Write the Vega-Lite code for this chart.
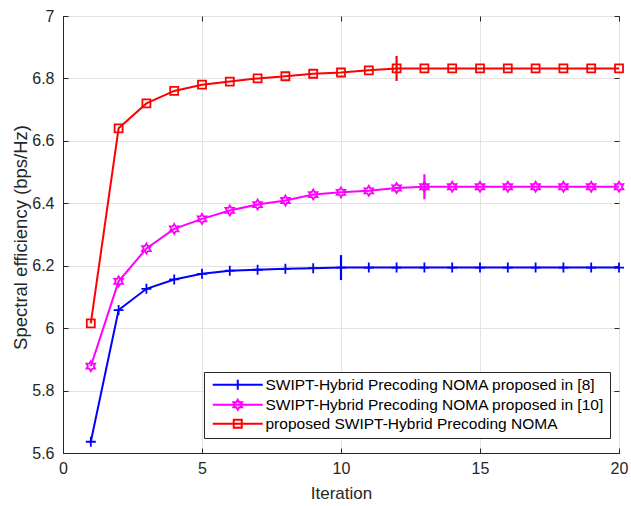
{
  "$schema": "https://vega.github.io/schema/vega-lite/v6.json",
  "width": 556,
  "height": 437,
  "autosize": "none",
  "padding": {"left": 63, "top": 16, "right": 12, "bottom": 53},
  "background": "white",
  "config": {
    "view": {"stroke": "#262626", "strokeWidth": 1},
    "font": "Liberation Sans",
    "axis": {
      "labelFont": "Liberation Sans",
      "labelFontSize": 16,
      "labelColor": "#262626",
      "titleFont": "Liberation Sans",
      "titleFontWeight": "normal",
      "titleColor": "#262626",
      "domainColor": "#262626",
      "tickColor": "#262626",
      "tickSize": -5,
      "gridColor": "#e3e3e3",
      "gridWidth": 1,
      "labelFlush": false
    }
  },
  "resolve": {"scale": {"shape": "independent", "color": "independent"}},
  "datasets": {
    "curves": [
      {"series": "SWIPT-Hybrid Precoding NOMA proposed in [8]", "iter": 1, "se": 5.636},
      {"series": "SWIPT-Hybrid Precoding NOMA proposed in [8]", "iter": 2, "se": 6.058},
      {"series": "SWIPT-Hybrid Precoding NOMA proposed in [8]", "iter": 3, "se": 6.126},
      {"series": "SWIPT-Hybrid Precoding NOMA proposed in [8]", "iter": 4, "se": 6.156},
      {"series": "SWIPT-Hybrid Precoding NOMA proposed in [8]", "iter": 5, "se": 6.174},
      {"series": "SWIPT-Hybrid Precoding NOMA proposed in [8]", "iter": 6, "se": 6.184},
      {"series": "SWIPT-Hybrid Precoding NOMA proposed in [8]", "iter": 7, "se": 6.187},
      {"series": "SWIPT-Hybrid Precoding NOMA proposed in [8]", "iter": 8, "se": 6.19},
      {"series": "SWIPT-Hybrid Precoding NOMA proposed in [8]", "iter": 9, "se": 6.192},
      {"series": "SWIPT-Hybrid Precoding NOMA proposed in [8]", "iter": 10, "se": 6.194},
      {"series": "SWIPT-Hybrid Precoding NOMA proposed in [8]", "iter": 11, "se": 6.194},
      {"series": "SWIPT-Hybrid Precoding NOMA proposed in [8]", "iter": 12, "se": 6.194},
      {"series": "SWIPT-Hybrid Precoding NOMA proposed in [8]", "iter": 13, "se": 6.194},
      {"series": "SWIPT-Hybrid Precoding NOMA proposed in [8]", "iter": 14, "se": 6.194},
      {"series": "SWIPT-Hybrid Precoding NOMA proposed in [8]", "iter": 15, "se": 6.194},
      {"series": "SWIPT-Hybrid Precoding NOMA proposed in [8]", "iter": 16, "se": 6.194},
      {"series": "SWIPT-Hybrid Precoding NOMA proposed in [8]", "iter": 17, "se": 6.194},
      {"series": "SWIPT-Hybrid Precoding NOMA proposed in [8]", "iter": 18, "se": 6.194},
      {"series": "SWIPT-Hybrid Precoding NOMA proposed in [8]", "iter": 19, "se": 6.194},
      {"series": "SWIPT-Hybrid Precoding NOMA proposed in [8]", "iter": 20, "se": 6.194},
      {"series": "SWIPT-Hybrid Precoding NOMA proposed in [10]", "iter": 1, "se": 5.878},
      {"series": "SWIPT-Hybrid Precoding NOMA proposed in [10]", "iter": 2, "se": 6.15},
      {"series": "SWIPT-Hybrid Precoding NOMA proposed in [10]", "iter": 3, "se": 6.255},
      {"series": "SWIPT-Hybrid Precoding NOMA proposed in [10]", "iter": 4, "se": 6.318},
      {"series": "SWIPT-Hybrid Precoding NOMA proposed in [10]", "iter": 5, "se": 6.35},
      {"series": "SWIPT-Hybrid Precoding NOMA proposed in [10]", "iter": 6, "se": 6.377},
      {"series": "SWIPT-Hybrid Precoding NOMA proposed in [10]", "iter": 7, "se": 6.396},
      {"series": "SWIPT-Hybrid Precoding NOMA proposed in [10]", "iter": 8, "se": 6.409},
      {"series": "SWIPT-Hybrid Precoding NOMA proposed in [10]", "iter": 9, "se": 6.428},
      {"series": "SWIPT-Hybrid Precoding NOMA proposed in [10]", "iter": 10, "se": 6.435},
      {"series": "SWIPT-Hybrid Precoding NOMA proposed in [10]", "iter": 11, "se": 6.44},
      {"series": "SWIPT-Hybrid Precoding NOMA proposed in [10]", "iter": 12, "se": 6.449},
      {"series": "SWIPT-Hybrid Precoding NOMA proposed in [10]", "iter": 13, "se": 6.453},
      {"series": "SWIPT-Hybrid Precoding NOMA proposed in [10]", "iter": 14, "se": 6.453},
      {"series": "SWIPT-Hybrid Precoding NOMA proposed in [10]", "iter": 15, "se": 6.453},
      {"series": "SWIPT-Hybrid Precoding NOMA proposed in [10]", "iter": 16, "se": 6.453},
      {"series": "SWIPT-Hybrid Precoding NOMA proposed in [10]", "iter": 17, "se": 6.453},
      {"series": "SWIPT-Hybrid Precoding NOMA proposed in [10]", "iter": 18, "se": 6.453},
      {"series": "SWIPT-Hybrid Precoding NOMA proposed in [10]", "iter": 19, "se": 6.453},
      {"series": "SWIPT-Hybrid Precoding NOMA proposed in [10]", "iter": 20, "se": 6.453},
      {"series": "proposed SWIPT-Hybrid Precoding NOMA", "iter": 1, "se": 6.015},
      {"series": "proposed SWIPT-Hybrid Precoding NOMA", "iter": 2, "se": 6.64},
      {"series": "proposed SWIPT-Hybrid Precoding NOMA", "iter": 3, "se": 6.72},
      {"series": "proposed SWIPT-Hybrid Precoding NOMA", "iter": 4, "se": 6.76},
      {"series": "proposed SWIPT-Hybrid Precoding NOMA", "iter": 5, "se": 6.78},
      {"series": "proposed SWIPT-Hybrid Precoding NOMA", "iter": 6, "se": 6.79},
      {"series": "proposed SWIPT-Hybrid Precoding NOMA", "iter": 7, "se": 6.8},
      {"series": "proposed SWIPT-Hybrid Precoding NOMA", "iter": 8, "se": 6.807},
      {"series": "proposed SWIPT-Hybrid Precoding NOMA", "iter": 9, "se": 6.815},
      {"series": "proposed SWIPT-Hybrid Precoding NOMA", "iter": 10, "se": 6.819},
      {"series": "proposed SWIPT-Hybrid Precoding NOMA", "iter": 11, "se": 6.826},
      {"series": "proposed SWIPT-Hybrid Precoding NOMA", "iter": 12, "se": 6.832},
      {"series": "proposed SWIPT-Hybrid Precoding NOMA", "iter": 13, "se": 6.832},
      {"series": "proposed SWIPT-Hybrid Precoding NOMA", "iter": 14, "se": 6.832},
      {"series": "proposed SWIPT-Hybrid Precoding NOMA", "iter": 15, "se": 6.832},
      {"series": "proposed SWIPT-Hybrid Precoding NOMA", "iter": 16, "se": 6.832},
      {"series": "proposed SWIPT-Hybrid Precoding NOMA", "iter": 17, "se": 6.832},
      {"series": "proposed SWIPT-Hybrid Precoding NOMA", "iter": 18, "se": 6.832},
      {"series": "proposed SWIPT-Hybrid Precoding NOMA", "iter": 19, "se": 6.832},
      {"series": "proposed SWIPT-Hybrid Precoding NOMA", "iter": 20, "se": 6.832}
    ],
    "conv": [
      {"series": "SWIPT-Hybrid Precoding NOMA proposed in [8]", "iter": 10, "se": 6.194},
      {"series": "SWIPT-Hybrid Precoding NOMA proposed in [10]", "iter": 13, "se": 6.453},
      {"series": "proposed SWIPT-Hybrid Precoding NOMA", "iter": 12, "se": 6.832}
    ]
  },
  "layer": [
    {
      "data": {"name": "curves"},
      "mark": {"type": "line", "strokeWidth": 2},
      "encoding": {
        "x": {
          "field": "iter", "type": "quantitative",
          "scale": {"domain": [0, 20], "nice": false, "zero": false},
          "axis": {"orient": "bottom", "values": [0, 5, 10, 15, 20], "grid": true, "labelPadding": 12,
                   "title": "Iteration", "titleFontSize": 17, "titleX": 278, "titleY": 45, "titleAlign": "center", "titleBaseline": "alphabetic"}
        },
        "y": {
          "field": "se", "type": "quantitative",
          "scale": {"domain": [5.6, 7], "nice": false, "zero": false},
          "axis": {"orient": "left", "values": [5.6, 5.8, 6, 6.2, 6.4, 6.6, 6.8, 7], "format": "~g", "grid": true, "labelPadding": 14,
                   "title": "Spectral efficiency (bps/Hz)", "titleFontSize": 18.5, "titleX": -43, "titleY": 221, "titleAngle": 270, "titleAlign": "center", "titleBaseline": "middle"}
        },
        "color": {
          "field": "series", "type": "nominal",
          "scale": {
            "domain": ["SWIPT-Hybrid Precoding NOMA proposed in [8]", "SWIPT-Hybrid Precoding NOMA proposed in [10]", "proposed SWIPT-Hybrid Precoding NOMA"],
            "range": ["#0000ff", "#ff00ff", "#ff0000"]
          },
          "legend": null
        }
      }
    },
    {
      "data": {"name": "curves"},
      "mark": {"type": "point", "filled": false, "strokeWidth": 1.8, "size": 100, "opacity": 1},
      "encoding": {
        "x": {"field": "iter", "type": "quantitative", "axis": null},
        "y": {"field": "se", "type": "quantitative", "axis": null},
        "color": {
          "field": "series", "type": "nominal", "legend": null,
          "scale": {
            "domain": ["SWIPT-Hybrid Precoding NOMA proposed in [8]", "SWIPT-Hybrid Precoding NOMA proposed in [10]", "proposed SWIPT-Hybrid Precoding NOMA"],
            "range": ["#0000ff", "#ff00ff", "#ff0000"]
          }
        },
        "shape": {
          "field": "series", "type": "nominal", "legend": null,
          "scale": {
            "domain": ["SWIPT-Hybrid Precoding NOMA proposed in [8]", "SWIPT-Hybrid Precoding NOMA proposed in [10]", "proposed SWIPT-Hybrid Precoding NOMA"],
            "range": ["M-1,0H1M0,-1V1", "M0,-1L0.289,-0.5L0.866,-0.5L0.577,0L0.866,0.5L0.289,0.5L0,1L-0.289,0.5L-0.866,0.5L-0.577,0L-0.866,-0.5L-0.289,-0.5Z", "M-0.8,-0.8H0.8V0.8H-0.8Z"]
          }
        }
      }
    },
    {
      "data": {"name": "conv"},
      "mark": {"type": "tick", "orient": "vertical", "size": 25, "thickness": 2.2, "opacity": 1},
      "encoding": {
        "x": {
          "field": "iter", "type": "quantitative",
          "axis": {"orient": "top", "values": [0, 5, 10, 15, 20], "labels": false, "title": null, "grid": false, "domain": false}
        },
        "y": {
          "field": "se", "type": "quantitative",
          "axis": {"orient": "right", "values": [5.6, 5.8, 6, 6.2, 6.4, 6.6, 6.8, 7], "labels": false, "title": null, "grid": false, "domain": false}
        },
        "color": {
          "field": "series", "type": "nominal", "legend": null,
          "scale": {
            "domain": ["SWIPT-Hybrid Precoding NOMA proposed in [8]", "SWIPT-Hybrid Precoding NOMA proposed in [10]", "proposed SWIPT-Hybrid Precoding NOMA"],
            "range": ["#0000ff", "#ff00ff", "#ff0000"]
          }
        }
      }
    },
    {
      "data": {"name": "conv"},
      "mark": {"type": "point", "filled": false, "strokeWidth": 2, "size": 100, "opacity": 0},
      "encoding": {
        "x": {"field": "iter", "type": "quantitative", "axis": null},
        "y": {"field": "se", "type": "quantitative", "axis": null},
        "color": {
          "field": "series", "type": "nominal",
          "scale": {
            "domain": ["SWIPT-Hybrid Precoding NOMA proposed in [8]", "SWIPT-Hybrid Precoding NOMA proposed in [10]", "proposed SWIPT-Hybrid Precoding NOMA"],
            "range": ["#0000ff", "#ff00ff", "#ff0000"]
          },
          "legend": {
            "orient": "none", "legendX": 141, "legendY": 356,
            "title": null, "direction": "vertical",
            "strokeColor": "#262626", "fillColor": "white", "padding": 5,
            "labelFont": "Liberation Sans", "labelFontSize": 15.5, "labelColor": "#000000", "labelLimit": 0,
            "symbolSize": 100, "labelOffset": 41, "rowPadding": 1, "symbolStrokeWidth": 2, "symbolOpacity": 1
          }
        },
        "shape": {
          "field": "series", "type": "nominal",
          "scale": {
            "domain": ["SWIPT-Hybrid Precoding NOMA proposed in [8]", "SWIPT-Hybrid Precoding NOMA proposed in [10]", "proposed SWIPT-Hybrid Precoding NOMA"],
            "range": ["M-0.8,0H9.2M4.2,-1V1", "M-0.8,0H9.2M4.2,-1L4.489,-0.5L5.066,-0.5L4.777,0L5.066,0.5L4.489,0.5L4.2,1L3.911,0.5L3.334,0.5L3.623,0L3.334,-0.5L3.911,-0.5Z", "M-0.8,0H9.2M3.4,-0.8H5V0.8H3.4Z"]
          },
          "legend": {
            "orient": "none", "legendX": 141, "legendY": 356,
            "title": null, "direction": "vertical",
            "strokeColor": "#262626", "fillColor": "white", "padding": 5,
            "labelFont": "Liberation Sans", "labelFontSize": 15.5, "labelColor": "#000000", "labelLimit": 0,
            "symbolSize": 100, "labelOffset": 41, "rowPadding": 1, "symbolStrokeWidth": 2, "symbolOpacity": 1
          }
        }
      }
    }
  ]
}
